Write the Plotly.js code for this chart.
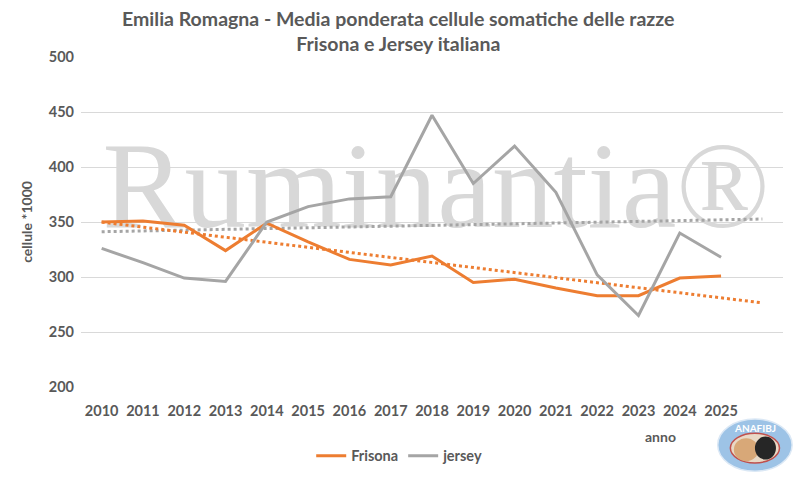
<!DOCTYPE html>
<html>
<head>
<meta charset="utf-8">
<script src="https://cdn.plot.ly/plotly-3.0.1.min.js"></script>
<style>
  html, body { margin: 0; padding: 0; background: #fff; }
  #chart { width: 806px; height: 484px; }
</style>
</head>
<body>
<div id="chart"></div>
<script>
// values
const years   = [2010, 2011, 2012, 2013, 2014, 2015, 2016, 2017, 2018, 2019, 2020, 2021, 2022, 2023, 2024, 2025];
const frisona = [350, 351, 347, 324, 349, 332, 316, 311, 319, 295, 298, 290, 283, 283, 299, 301];
const jersey  = [326, 313, 299, 296, 350, 364, 371, 373, 447, 385, 419, 377, 302, 265, 340, 318];
const yTicks  = [200, 250, 300, 350, 400, 450, 500];

const ORANGE = "#ED7D31";
const GREY   = "#A5A5A5";
const TXT    = "#595959";
const FONT   = "Lato, 'Open Sans', sans-serif";

// least squares trend, as the spreadsheet draws it, carried one year ahead
function trend(xs, ys){
  const n = xs.length;
  const mx = xs.reduce((a,b)=>a+b,0) / n;
  const my = ys.reduce((a,b)=>a+b,0) / n;
  let sxy = 0, sxx = 0;
  for(let i = 0; i < n; i++){
    sxy += (xs[i]-mx) * (ys[i]-my);
    sxx += (xs[i]-mx) * (xs[i]-mx);
  }
  const b = sxy / sxx;
  const x0 = xs[0], x1 = xs[n-1] + 1;
  return { x: [x0, x1], y: [my + b*(x0-mx), my + b*(x1-mx)] };
}

const tF = trend(years, frisona);
const tJ = trend(years, jersey);

const traces = [
  { // watermark, kept under the lines
    x: [2018.1], y: [373], type: "scatter", mode: "text",
    text: ["Ruminantia®"], textposition: "middle center",
    textfont: { family: "'Liberation Serif', 'DejaVu Serif', serif", size: 123, color: "#d8d8d8" },
    hoverinfo: "skip", showlegend: false, cliponaxis: false
  },
  {
    x: tJ.x, y: tJ.y, type: "scatter", mode: "lines",
    line: { color: GREY, width: 3, dash: "dot" },
    hoverinfo: "skip", showlegend: false
  },
  {
    x: tF.x, y: tF.y, type: "scatter", mode: "lines",
    line: { color: ORANGE, width: 3, dash: "dot" },
    hoverinfo: "skip", showlegend: false
  },
  {
    x: years, y: frisona, name: "<b>Frisona</b>", type: "scatter", mode: "lines",
    line: { color: ORANGE, width: 3 }
  },
  {
    x: years, y: jersey, name: "<b>jersey</b>", type: "scatter", mode: "lines",
    line: { color: GREY, width: 3 }
  }
];

const layout = {
  width: 806, height: 484,
  margin: { l: 81, r: 23, t: 57, b: 94 },
  paper_bgcolor: "#fff", plot_bgcolor: "#fff",
  font: { family: FONT, color: TXT },
  xaxis: {
    range: [2009.5, 2026.5], tickvals: years, ticktext: years.map(y => "<b>" + y + "</b>"),
    showgrid: false, zeroline: false, showline: false, ticks: "",
    tickfont: { family: FONT, size: 14.5, color: TXT }, ticklabelstandoff: 13
  },
  yaxis: {
    range: [200, 500], tickvals: yTicks, ticktext: yTicks.map(v => "<b>" + v + "</b>"),
    showgrid: true, gridcolor: "#d9d9d9", gridwidth: 1, zeroline: false, showline: false, ticks: "",
    tickfont: { family: FONT, size: 14.5, color: TXT }, ticklabelstandoff: 6,
    title: { text: "<b>cellule *1000</b>", font: { family: FONT, size: 14, color: TXT, weight: 700 }, standoff: 12 }
  },
  showlegend: true,
  legend: {
    orientation: "h", x: 0.454, xanchor: "center", y: -0.16, yanchor: "top",
    font: { family: FONT, size: 14.5, color: TXT }, itemwidth: 30, traceorder: "normal"
  },
  annotations: [
    { // chart title
      text: "<b>Emilia Romagna - Media ponderata cellule somatiche delle razze<br>Frisona e Jersey italiana</b>",
      xref: "paper", yref: "paper", x: 0.452, y: 1.08, xanchor: "center", yanchor: "middle",
      showarrow: false, align: "center",
      font: { family: FONT, size: 19.5, color: TXT, weight: 700 } },
    { text: "<b>anno</b>", xref: "paper", yref: "paper", x: 0.825, y: -0.14,
      xanchor: "center", yanchor: "middle", yshift: -3, showarrow: false,
      font: { family: FONT, size: 14, color: TXT } },
    { text: "<b>ANAFIBJ</b>", xref: "paper", yref: "paper", x: 0.96, y: -0.125,
      xanchor: "center", yanchor: "middle", showarrow: false,
      font: { family: FONT, size: 10, color: "#ffffff" } }
  ],
  shapes: [
    { type: "circle", xref: "paper", yref: "paper", x0: 0.907, x1: 1.013, y0: -0.255, y1: -0.097,
      fillcolor: "#9dc3e6", line: { color: "#dbe8f5", width: 1.5 }, layer: "above" },
    { type: "circle", xref: "paper", yref: "paper", x0: 0.925, x1: 0.995, y0: -0.23, y1: -0.14,
      fillcolor: "#e9d9c6", line: { color: "#c0504d", width: 1.5 }, layer: "above" },
    { type: "circle", xref: "paper", yref: "paper", x0: 0.93, x1: 0.965, y0: -0.225, y1: -0.155,
      fillcolor: "#d8a878", line: { width: 0 }, layer: "above" },
    { type: "circle", xref: "paper", yref: "paper", x0: 0.96, x1: 0.99, y0: -0.22, y1: -0.15,
      fillcolor: "#262626", line: { width: 0 }, layer: "above" }
  ]
};

Plotly.newPlot("chart", traces, layout, { displayModeBar: false, staticPlot: true });
</script>
</body>
</html>
